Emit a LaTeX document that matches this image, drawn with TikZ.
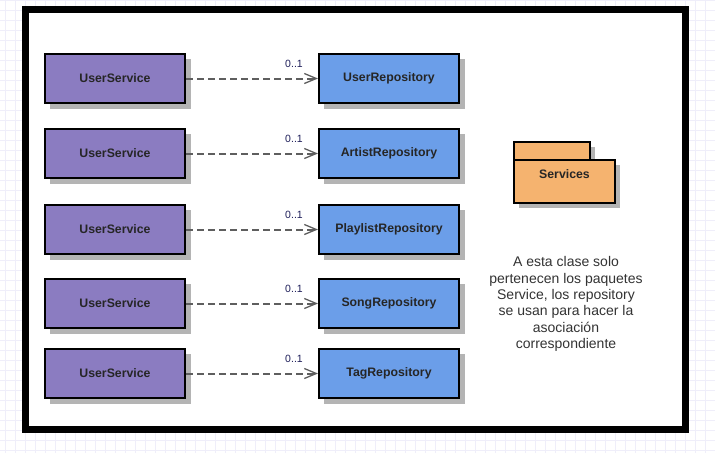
\documentclass[tikz,border=0pt]{standalone}
\usepackage{fontspec}
\setmainfont{Liberation Sans}
\usetikzlibrary{arrows.meta}
\definecolor{gridc}{HTML}{EFEEFA}
\definecolor{svcfill}{HTML}{8B7CC1}
\definecolor{repofill}{HTML}{6B9EE9}
\definecolor{pkgfill}{HTML}{F5B36F}
\definecolor{shadowc}{HTML}{B4B4B4}
\definecolor{linec}{HTML}{5E5E5E}
\definecolor{labc}{HTML}{1F1F5A}
\definecolor{notec}{HTML}{333333}
\tikzset{
  umlbox/.style={draw=black, line width=2pt, minimum width=140pt, minimum height=49pt, inner sep=0pt,
    font=\fontsize{12.3}{14}\selectfont\bfseries, text=black!85},
  svcbox/.style={umlbox, fill=svcfill},
  repobox/.style={umlbox, fill=repofill},
  depline/.style={draw=linec, line width=2pt, dash pattern=on 7pt off 4pt,
    -{Straight Barb[length=12pt, width=10pt, line width=1.3pt]}},
  multlab/.style={font=\fontsize{10.5}{12}\selectfont, text=labc, inner sep=0pt},
  notetext/.style={font=\fontsize{14}{16.3}\selectfont, text=notec, align=center, inner sep=0pt},
}
\begin{document}
\begin{tikzpicture}[x=1pt, y=-1pt]
\useasboundingbox (0,0) rectangle (715,453);
\fill[white] (0,0) rectangle (715,453);
% grid
\foreach \gx in {5,15,...,715} \draw[gridc, line width=0.8pt] (\gx,0) -- (\gx,453);
\foreach \gy in {0,10,...,450} \draw[gridc, line width=0.8pt] (0,\gy) -- (715,\gy);
% frame
\fill[white] (25.5,9.5) rectangle (685.5,429.5);
\draw[line width=7pt] (25.5,9.5) rectangle (685.5,429.5);
% rows
\foreach \i/\yc/\rname in {1/78.5/UserRepository, 2/153.5/ArtistRepository, 3/229.5/PlaylistRepository, 4/303.5/SongRepository, 5/373.5/TagRepository}{
  \fill[shadowc] (50,\yc-19.5) rectangle (190.5,\yc+30);
  \fill[shadowc] (324,\yc-19.5) rectangle (464.5,\yc+30);
  \node[svcbox] (s\i) at (115,\yc) {UserService};
  \node[repobox] (r\i) at (389,\yc) {\rname};
  \draw[depline] (s\i.east) -- (r\i.west);
  \node[multlab] (m\i) at (294,\yc-14.5) {0..1};
}
% package
\fill[shadowc] (519,147) rectangle (595,165);
\fill[shadowc] (519,165) rectangle (620,208);
\node[draw=black, line width=2pt, fill=pkgfill, minimum width=76pt, minimum height=18pt, inner sep=0pt] (ptab) at (552,151) {};
\node[draw=black, line width=2pt, fill=pkgfill, minimum width=101pt, minimum height=43pt, inner sep=0pt] (pbody) at (564.5,181.5) {};
\node[font=\fontsize{12.3}{14}\selectfont\bfseries, text=black!85, inner sep=0pt] (plab) at (564.5,174) {Services};
% note
\node[notetext] (note) at (566,304) {A esta clase solo\\pertenecen los paquetes\\Service, los repository\\se usan para hacer la\\asociación\\correspondiente};
\end{tikzpicture}
\end{document}
